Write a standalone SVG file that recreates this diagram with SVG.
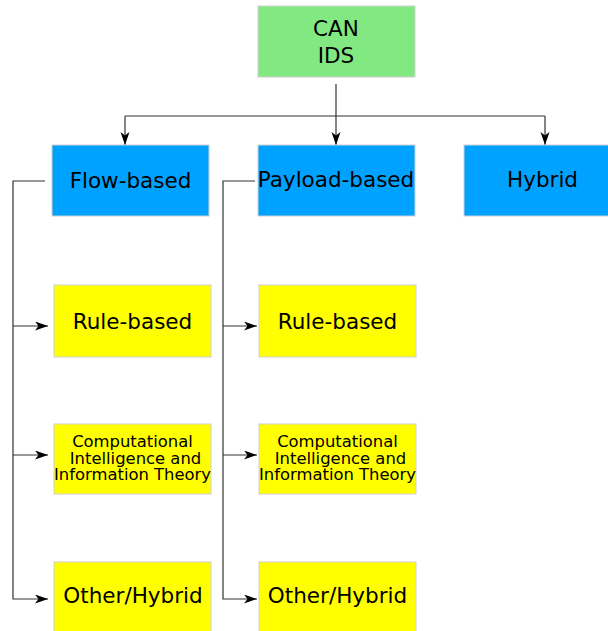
<svg xmlns="http://www.w3.org/2000/svg" width="608" height="631" viewBox="0 0 608 631">
  <style>
    .box { stroke: #d0d0d0; stroke-width: 1; }
    .root { fill: #82e882; }
    .cat { fill: #00a2ff; }
    .sub { fill: #ffff00; }
    text { font-family: "DejaVu Sans", Verdana, sans-serif; fill: #000; text-anchor: middle; }
    .big { font-size: 21.5px; }
    .small { font-size: 16.4px; }
    .wire { fill: none; stroke: #333; stroke-width: 1.2; }
  </style>
  <defs>
    <marker id="arrow" markerUnits="userSpaceOnUse" markerWidth="16" markerHeight="10" refX="13" refY="4.5" orient="auto">
      <path d="M0,0 L13,4.5 L0,9 L3.5,4.5 z" fill="#000"/>
    </marker>
  </defs>

  <g id="connectors">
    <path class="wire" d="M336,84 V116"/>
    <path class="wire" d="M125,116 H545"/>
    <path class="wire" d="M125,116 V145" marker-end="url(#arrow)"/>
    <path class="wire" d="M336,116 V145" marker-end="url(#arrow)"/>
    <path class="wire" d="M545,116 V145" marker-end="url(#arrow)"/>

    <path class="wire" d="M45,181 H13 V599 H48" marker-end="url(#arrow)"/>
    <path class="wire" d="M13,326 H48" marker-end="url(#arrow)"/>
    <path class="wire" d="M13,455 H48" marker-end="url(#arrow)"/>

    <path class="wire" d="M255,181 H223 V599 H257" marker-end="url(#arrow)"/>
    <path class="wire" d="M223,326 H257" marker-end="url(#arrow)"/>
    <path class="wire" d="M223,455 H257" marker-end="url(#arrow)"/>
  </g>

  <g id="can-ids">
    <rect class="box root" x="258" y="6" width="157" height="71"/>
    <text class="big" x="336" y="36">CAN</text>
    <text class="big" x="336" y="63">IDS</text>
  </g>

  <g id="flow-based">
    <rect class="box cat" x="52" y="145" width="157" height="71"/>
    <text class="big" x="130.5" y="188">Flow-based</text>
  </g>
  <g id="payload-based">
    <rect class="box cat" x="258" y="145" width="157" height="71"/>
    <text class="big" x="336" y="187">Payload-based</text>
  </g>
  <g id="hybrid">
    <rect class="box cat" x="464" y="145" width="157" height="71"/>
    <text class="big" x="542.5" y="187">Hybrid</text>
  </g>

  <g id="flow-rule-based">
    <rect class="box sub" x="54" y="285" width="157" height="72"/>
    <text class="big" x="132.5" y="329">Rule-based</text>
  </g>
  <g id="flow-ci-it">
    <rect class="box sub" x="54" y="424" width="157" height="70"/>
    <text class="small" x="132.5" y="447">Computational</text>
    <text class="small" x="135.5" y="464">Intelligence and</text>
    <text class="small" x="132.5" y="480">Information Theory</text>
  </g>
  <g id="flow-other-hybrid">
    <rect class="box sub" x="54" y="562" width="157" height="70"/>
    <text class="big" x="133" y="603">Other/Hybrid</text>
  </g>

  <g id="payload-rule-based">
    <rect class="box sub" x="259" y="285" width="157" height="72"/>
    <text class="big" x="337.5" y="329">Rule-based</text>
  </g>
  <g id="payload-ci-it">
    <rect class="box sub" x="259" y="424" width="157" height="70"/>
    <text class="small" x="337.5" y="447">Computational</text>
    <text class="small" x="340.5" y="464">Intelligence and</text>
    <text class="small" x="337.5" y="480">Information Theory</text>
  </g>
  <g id="payload-other-hybrid">
    <rect class="box sub" x="259" y="562" width="157" height="70"/>
    <text class="big" x="337.5" y="603">Other/Hybrid</text>
  </g>
</svg>
